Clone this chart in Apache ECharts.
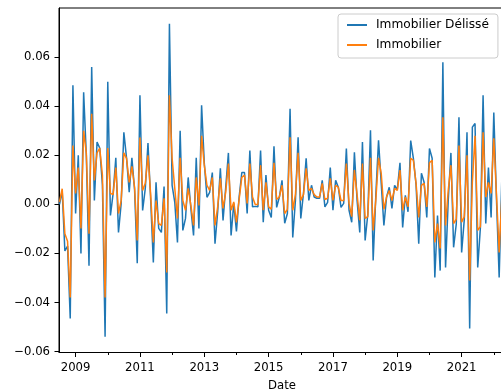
<!DOCTYPE html>
<html>
<head>
<meta charset="utf-8">
<script src="https://cdn.jsdelivr.net/npm/echarts@6/dist/echarts.min.js"></script>
<style>
  html, body { margin: 0; padding: 0; background: #fff; }
  #chart { width: 501px; height: 391px; }
</style>
</head>
<body>
<div id="chart"></div>
<script>
// Monthly observations starting July 2008
const startYear = 2008;
const startMonth = 6; // 0-based: July

const delisse = [
  0.000, 0.0055, -0.019, -0.017, -0.0465, 0.0486, -0.0037, 0.020, -0.020, 0.0457,
  0.020, -0.025, 0.056, 0.0016, 0.0254, 0.023, 0.008, -0.054, 0.050, -0.0045,
  0.0045, 0.019, -0.0114, 0.0004, 0.0294, 0.019, 0.005, 0.019, 0.006, -0.024,
  0.0445, -0.0025, 0.0065, 0.025, 0.002, -0.0237, 0.009, -0.0098, -0.0114, 0.0073,
  -0.0445, 0.0737, 0.0078, 0.0008, -0.0155, 0.030, -0.0106, -0.0057, 0.011, -0.0016,
  -0.0127, 0.019, -0.0098, 0.0404, 0.017, 0.0029, 0.0049, 0.013, -0.016, -0.003,
  0.0147, -0.0065, 0.007, 0.021, -0.0127, 0.0004, -0.011, 0.003, 0.013, 0.013,
  -0.0037, 0.022, -0.001, -0.0008, -0.001, 0.022, -0.0073, 0.012, -0.0024, -0.0053,
  0.0237, -0.0012, 0.003, 0.0098, -0.0077, -0.0037, 0.039, -0.0135, 0.0016, 0.0274,
  -0.0057, 0.0045, 0.0188, 0.0016, 0.0078, 0.003, 0.0025, 0.0025, 0.0098, -0.001,
  0.0008, 0.015, -0.0024, 0.0098, 0.007, -0.0012, 0.0004, 0.0228, -0.0024, -0.0073,
  0.0213, 0.0016, -0.0114, 0.0254, -0.0147, -0.004, 0.0302, -0.0229, 0.004, 0.0261,
  0.0086, -0.0086, 0.003, 0.007, -0.0016, 0.0078, 0.006, 0.017, -0.0094, 0.0037,
  -0.003, 0.026, 0.0188, 0.008, -0.016, 0.0127, 0.009, -0.0053, 0.0228, 0.0188,
  -0.0298, -0.0045, -0.027, 0.058, -0.0257, 0.0016, 0.021, -0.0175, -0.008, 0.0355,
  -0.0196, -0.006, 0.0294, -0.0506, 0.0315, 0.033, -0.0257, -0.0094, 0.0445, -0.0078,
  0.015, -0.0053, 0.0375, 0.002, -0.0298, 0.011
];

const immobilier = [
  0.001, 0.0064, -0.012, -0.015, -0.038, 0.024, 0.0045, 0.015, -0.0098, 0.030,
  0.021, -0.012, 0.037, 0.0098, 0.021, 0.023, 0.012, -0.038, 0.023, 0.0045,
  0.004, 0.015, -0.0037, 0.0016, 0.021, 0.0188, 0.009, 0.0155, 0.007, -0.0147,
  0.0273, 0.0057, 0.0086, 0.020, 0.004, -0.0155, 0.0016, -0.0078, -0.0085, 0.0025,
  -0.0278, 0.0445, 0.0188, 0.0065, -0.0057, 0.019, 0.0016, -0.0024, 0.0065, -0.0004,
  -0.0086, 0.011, -0.0004, 0.028, 0.016, 0.0078, 0.0057, 0.011, -0.0086, -0.001,
  0.0106, -0.0016, 0.005, 0.0167, -0.0024, 0.001, -0.0073, 0.002, 0.011, 0.012,
  0.0004, 0.0167, 0.003, 0.000, 0.000, 0.016, -0.0024, 0.009, -0.001, -0.002,
  0.017, 0.002, 0.003, 0.0078, -0.0037, -0.002, 0.0274, -0.0024, 0.004, 0.021,
  0.0016, 0.004, 0.0147, 0.0057, 0.0065, 0.004, 0.003, 0.003, 0.0086, 0.002,
  0.0025, 0.0106, 0.0016, 0.0078, 0.007, 0.0016, 0.0016, 0.0167, 0.0004, -0.005,
  0.014, 0.004, -0.0065, 0.0167, -0.0057, -0.005, 0.019, -0.0106, 0.002, 0.019,
  0.0127, -0.002, 0.003, 0.0057, 0.0016, 0.0065, 0.0057, 0.014, -0.0024, 0.003,
  -0.001, 0.0188, 0.018, 0.0086, -0.0053, 0.0078, 0.0086, -0.001, 0.017, 0.018,
  -0.0155, -0.0078, -0.018, 0.0355, -0.0086, 0.0057, 0.016, -0.0078, -0.006, 0.024,
  -0.0073, -0.005, 0.020, -0.031, 0.009, 0.028, -0.0106, -0.009, 0.0294, 0.003,
  0.009, 0.0045, 0.027, 0.004, -0.0196, 0.003
];

const yTicks = [-0.06, -0.04, -0.02, 0.00, 0.02, 0.04, 0.06];
const xLabelYears = [2009, 2011, 2013, 2015, 2017, 2019, 2021];
const xMinorYears = [2010, 2012, 2014, 2016, 2018, 2020, 2022];
const seriesNames = ['Immobilier Délissé', 'Immobilier'];

// decimal-year position of each monthly observation
const dates = delisse.map((_, i) => startYear + (startMonth + i) / 12);

const xMin = 2008.484;
const xMax = 2022.348;

const FONT = 'DejaVu Sans';
const chart = echarts.init(document.getElementById('chart'), null, { renderer: 'canvas' });

const fmtY = v => {
  const r = Math.round(v * 100) / 100;
  const s = Math.abs(r).toFixed(2);
  return r < 0 ? '\u2212' + s : s;
};

chart.setOption({
  animation: false,
  backgroundColor: '#fff',
  grid: {
    left: 59, top: 8, right: -4, bottom: 38.5,
    containLabel: false, outerBoundsMode: 'none',
    show: true, borderColor: '#000', borderWidth: 1, backgroundColor: 'transparent'
  },
  legend: {
    orient: 'vertical',
    left: 338, top: 14,
    padding: [4, 9, 6, 9],
    itemWidth: 20, itemHeight: 2, itemGap: 6,
    icon: 'rect',
    borderColor: '#cccccc', borderWidth: 1, borderRadius: 3,
    backgroundColor: 'rgba(255,255,255,0.8)',
    textStyle: { fontFamily: FONT, fontSize: 12.2, color: '#000', lineHeight: 14, padding: [0, 0, 0, 4] },
    data: seriesNames
  },
  xAxis: [
    {
      type: 'value', min: xMin, max: xMax,
      name: 'Date', nameLocation: 'middle', nameGap: 27,
      nameTextStyle: { fontFamily: FONT, fontSize: 11.7, color: '#000' },
      axisLine: { show: true, onZero: false, lineStyle: { color: '#000', width: 1 } },
      axisTick: { show: true, length: 4.5, lineStyle: { color: '#000', width: 1 },
                  customValues: xLabelYears },
      axisLabel: { show: true, margin: 9, fontFamily: FONT, fontSize: 11.7, color: '#000',
                   customValues: xLabelYears, formatter: v => String(Math.round(v)) },
      splitLine: { show: false }
    },
    {
      type: 'value', min: xMin, max: xMax, position: 'bottom',
      axisLine: { show: false, onZero: false },
      axisTick: { show: true, length: 2.5, lineStyle: { color: '#000', width: 1 },
                  customValues: xMinorYears },
      axisLabel: { show: false },
      splitLine: { show: false }
    }
  ],
  yAxis: {
    type: 'value', min: -0.0604, max: 0.0801,
    axisLine: { show: true, onZero: false, lineStyle: { color: '#000', width: 1 } },
    axisTick: { show: true, length: 4.5, lineStyle: { color: '#000', width: 1 }, customValues: yTicks },
    axisLabel: { show: true, margin: 9, fontFamily: FONT, fontSize: 11.7, color: '#000',
                 customValues: yTicks, formatter: fmtY },
    splitLine: { show: false }
  },
  series: [
    {
      name: seriesNames[0], type: 'line', xAxisIndex: 0,
      data: dates.map((d, i) => [d, delisse[i]]),
      showSymbol: false, symbol: 'none',
      lineStyle: { color: '#1f77b4', width: 1.5 },
      itemStyle: { color: '#1f77b4' },
      z: 2
    },
    {
      name: seriesNames[1], type: 'line', xAxisIndex: 0,
      data: dates.map((d, i) => [d, immobilier[i]]),
      showSymbol: false, symbol: 'none',
      lineStyle: { color: '#ff7f0e', width: 1.5 },
      itemStyle: { color: '#ff7f0e' },
      z: 3
    }
  ]
});
</script>
</body>
</html>
